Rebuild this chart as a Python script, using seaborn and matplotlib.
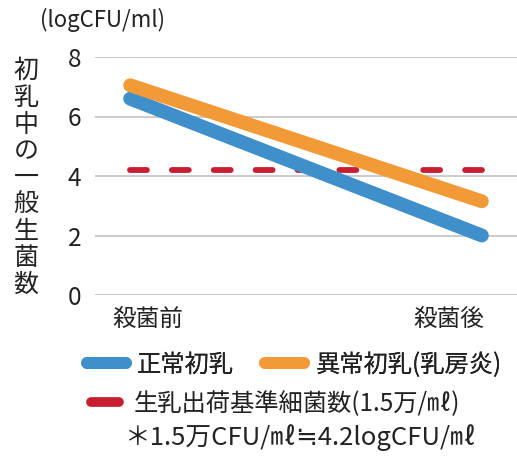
import matplotlib
matplotlib.use("Agg")
import matplotlib.pyplot as plt
import matplotlib.transforms as mtransforms
from matplotlib.lines import Line2D
import seaborn as sns
import pandas as pd

# ---- data ----
stages = ["殺菌前", "殺菌後"]
normal = [6.6, 2.0]
abnormal = [7.05, 3.15]
standard = [4.2, 4.2]
series_names = ["正常初乳", "異常初乳(乳房炎)"]
standard_name = "生乳出荷基準細菌数(1.5万/㎖)"
yticks = [0, 2, 4, 6, 8]
unit_label = "(logCFU/ml)"
ylabel = "初乳中の一般生菌数"
footnote = "＊1.5万CFU/㎖≒4.2logCFU/㎖"

colors = {"正常初乳": "#3F8FCA", "異常初乳(乳房炎)": "#F39A38"}
red = "#C81E32"
txt = "#222222"

sns.set_theme(style="white")
plt.rcParams["font.family"] = ["Noto Sans CJK JP", "DejaVu Sans"]

rows = []
for name, vals in zip(series_names, [normal, abnormal]):
    for i, (s, v) in enumerate(zip(stages, vals)):
        rows.append({"pos": i, "stage": s, "value": v, "group": name})
df = pd.DataFrame(rows)

W, H = 517, 457
fig = plt.figure(figsize=(W / 100, H / 100), dpi=100)
ax = fig.add_axes([95 / W, (H - 295) / H, (517 - 95) / W, (295 - 57) / H])

# standard line (dashed)
sns.lineplot(x=list(range(len(stages))), y=standard, ax=ax, color=red,
             linewidth=4.2, legend=False, zorder=2)
ax.lines[-1].set_dashes([2.9, 4.28])
ax.lines[-1].set_dash_capstyle("round")

sns.lineplot(data=df, x="pos", y="value", hue="group", palette=colors,
             hue_order=series_names, linewidth=10, ax=ax, legend=False,
             solid_capstyle="round", zorder=3)

ax.set_xlim(-0.1, 1.1)
ax.set_ylim(0, 8)
ax.set_yticks(yticks)
ax.set_yticklabels([str(t) for t in yticks], fontsize=17.5, color=txt)
ax.set_xticks(range(len(stages)))
ax.set_xticklabels(stages, fontsize=17, color=txt)
ax.tick_params(axis="x", length=0, pad=9)
ax.tick_params(axis="y", length=0, pad=10)
offsets = [18, -33]
for lab, dx in zip(ax.get_xticklabels(), offsets):
    lab.set_transform(lab.get_transform() + mtransforms.ScaledTranslation(dx / 100, 0, fig.dpi_scale_trans))
ax.set_xlabel("")
ax.set_ylabel("")
ax.grid(axis="y", color="#BDBDBD", linewidth=1.1)
ax.grid(axis="x", visible=False)
for sp in ax.spines.values():
    sp.set_visible(False)

# unit label
fig.text(40 / W, 1 - 20 / H, unit_label, fontsize=16, color=txt, ha="left", va="center")

# vertical y label, stacked characters
y0, y1 = 71, 285
n = len(ylabel)
for i, ch in enumerate(ylabel):
    yy = y0 + (y1 - y0) * i / (n - 1)
    fig.text(26 / W, 1 - yy / H, ch, fontsize=18, color=txt, ha="center", va="center")

# legends
h1 = [Line2D([0], [0], color=colors[n_], linewidth=8.5, solid_capstyle="round") for n_ in series_names]
leg1 = fig.legend(h1, series_names, loc="center left", bbox_to_anchor=(87 / W, 1 - 365 / H),
                  ncol=2, frameon=False, fontsize=17.5, handlelength=1.6, handletextpad=0.45,
                  columnspacing=1.3, borderaxespad=0, borderpad=0)
for t in leg1.get_texts():
    t.set_color(txt)
h2 = [Line2D([0], [0], color=red, linewidth=7, solid_capstyle="round")]
leg2 = fig.legend(h2, [standard_name], loc="center left", bbox_to_anchor=(91 / W, 1 - 404 / H),
                  frameon=False, fontsize=17.5, handlelength=1.15, handletextpad=0.6,
                  borderaxespad=0, borderpad=0)
for t in leg2.get_texts():
    t.set_color(txt)
fig.add_artist(leg1)

fig.text(300 / W, 1 - 438 / H, footnote, fontsize=18.5, color=txt, ha="center", va="center")

fig.savefig("out.png", dpi=100)
